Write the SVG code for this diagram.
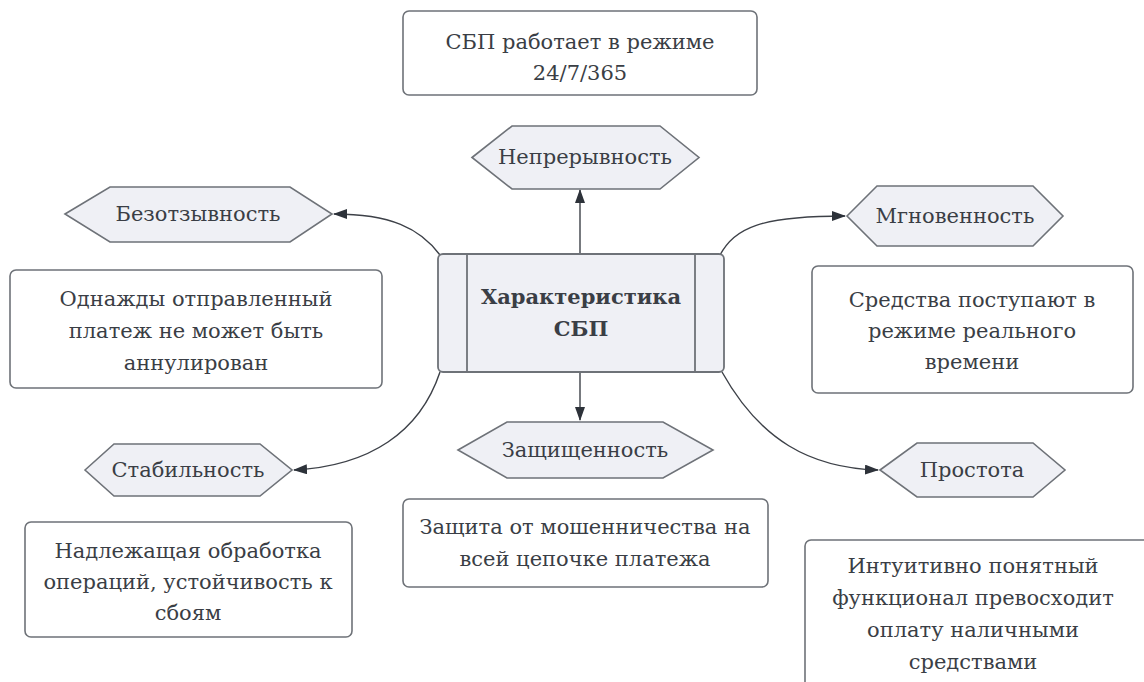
<svg xmlns="http://www.w3.org/2000/svg" width="1144" height="682" viewBox="0 0 1144 682">
<defs>
<style>
.box{fill:#ffffff;stroke:#6e7278;stroke-width:1.6}
.hex{fill:#eff0f5;stroke:#6e7278;stroke-width:1.6}
.core{fill:#eff0f5;stroke:#6e7278;stroke-width:1.8}
.t{font-family:"DejaVu Serif","Liberation Serif",serif;font-size:21px;fill:#3a3e45;text-anchor:middle;dominant-baseline:central}
.b{font-weight:bold}
.edge{fill:none;stroke:#3d4148;stroke-width:1.4}
</style>
<marker id="arr" viewBox="0 0 14 10" refX="13" refY="5" markerWidth="14" markerHeight="10" markerUnits="userSpaceOnUse" orient="auto">
<path d="M0,0 L14,5 L0,10 Z" fill="#2d323a"/>
</marker>
</defs>
<g id="connectors">
<path class="edge" d="M580,253 L580,190" marker-end="url(#arr)"/>
<path class="edge" d="M440,255 C420,228 390,214 334,214" marker-end="url(#arr)"/>
<path class="edge" d="M720,255 C735,228 760,216 845,216" marker-end="url(#arr)"/>
<path class="edge" d="M440,372 C420,432 370,466 294,470" marker-end="url(#arr)"/>
<path class="edge" d="M580,372 L580,420" marker-end="url(#arr)"/>
<path class="edge" d="M722,372 C760,440 810,468 878,470" marker-end="url(#arr)"/>
</g>
<g id="n-top">
<rect class="box" x="403" y="11" width="354" height="84" rx="6"/>
<text class="t" x="580" y="42">СБП работает в режиме</text>
<text class="t" x="580" y="73">24/7/365</text>
</g>
<g id="n-nepreryvnost">
<polygon class="hex" points="472,157.5 512,126 660,126 699,157.5 660,189 512,189"/>
<text class="t" x="585" y="157">Непрерывность</text>
</g>
<g id="n-bezotzyvnost">
<polygon class="hex" points="65,214 110,187 290,187 332,214 290,242 110,242"/>
<text class="t" x="198" y="214">Безотзывность</text>
</g>
<g id="n-mgnovennost">
<polygon class="hex" points="847,216 877,186 1033,186 1063,216 1033,246 877,246"/>
<text class="t" x="955" y="216">Мгновенность</text>
</g>
<g id="n-center">
<rect class="core" x="438" y="254" width="286" height="118" rx="5"/>
<line class="core" x1="467" y1="254" x2="467" y2="372"/>
<line class="core" x1="695" y1="254" x2="695" y2="372"/>
<text class="t b" x="581" y="296">Характеристика</text>
<text class="t b" x="581" y="328">СБП</text>
</g>
<g id="n-odnazhdy">
<rect class="box" x="10" y="270" width="372" height="118" rx="6"/>
<text class="t" x="196" y="299">Однажды отправленный</text>
<text class="t" x="196" y="331">платеж не может быть</text>
<text class="t" x="196" y="363">аннулирован</text>
</g>
<g id="n-sredstva">
<rect class="box" x="812" y="266" width="321" height="127" rx="6"/>
<text class="t" x="972" y="300">Средства поступают в</text>
<text class="t" x="972" y="331">режиме реального</text>
<text class="t" x="972" y="362">времени</text>
</g>
<g id="n-stabilnost">
<polygon class="hex" points="85,470 114,444 260,444 292,470 260,496 114,496"/>
<text class="t" x="188" y="470">Стабильность</text>
</g>
<g id="n-zashchishchennost">
<polygon class="hex" points="458,450 507,422 663,422 713,450 663,478 507,478"/>
<text class="t" x="585" y="450">Защищенность</text>
</g>
<g id="n-prostota">
<polygon class="hex" points="880,470 917,443 1033,443 1065,470 1033,497 917,497"/>
<text class="t" x="972" y="470">Простота</text>
</g>
<g id="n-nadlezhashchaya">
<rect class="box" x="25" y="522" width="327" height="115" rx="6"/>
<text class="t" x="188" y="551">Надлежащая обработка</text>
<text class="t" x="188" y="582">операций, устойчивость к</text>
<text class="t" x="188" y="613">сбоям</text>
</g>
<g id="n-zashchita">
<rect class="box" x="403" y="499" width="365" height="88" rx="6"/>
<text class="t" x="585" y="527">Защита от мошенничества на</text>
<text class="t" x="585" y="559">всей цепочке платежа</text>
</g>
<g id="n-intuitivno">
<rect class="box" x="805" y="540" width="350" height="160" rx="6"/>
<text class="t" x="973" y="566">Интуитивно понятный</text>
<text class="t" x="973" y="598">функционал превосходит</text>
<text class="t" x="973" y="630">оплату наличными</text>
<text class="t" x="973" y="662">средствами</text>
</g>
</svg>
